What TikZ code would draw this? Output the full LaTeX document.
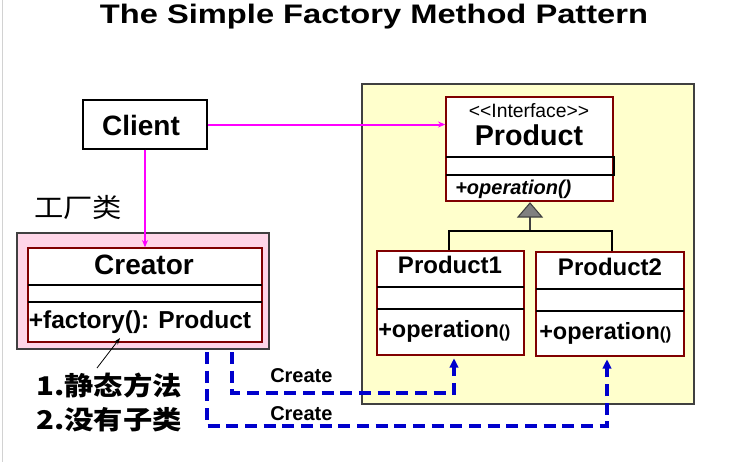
\documentclass[tikz,border=0pt]{standalone}
\usepackage{fontspec}
\setmainfont{Liberation Sans}
\newfontfamily\nolig{Liberation Sans}[Ligatures=TeXOff]
\newfontfamily\cjk{Noto Sans CJK SC}
\usetikzlibrary{arrows.meta,fit}
\definecolor{pinkbg}{RGB}{255,214,232}
\definecolor{yellowbg}{RGB}{255,255,204}
\definecolor{darkred}{RGB}{128,0,0}
\definecolor{mag}{RGB}{255,0,255}
\definecolor{createblue}{RGB}{0,0,204}
\definecolor{frame}{RGB}{64,64,64}
\newcommand\myfs[1]{\fontsize{#1}{#1}\selectfont}
\begin{document}
\begin{tikzpicture}[x=0.75pt,y=-0.75pt,
  region/.style={draw=frame, line width=1pt, inner sep=0pt},
  classbox/.style={draw=darkred, fill=white, line width=1pt, inner sep=0pt},
  simplebox/.style={draw=black, fill=white, line width=1pt, inner sep=0pt},
  comp/.style={draw=black, line width=1pt},
  assoc/.style={draw=mag, line width=1.5pt, -{Stealth[length=5.5pt,width=4.5pt]}},
  create/.style={draw=createblue, line width=2.4pt, dash pattern=on 9pt off 5pt,
     -{Triangle[length=7pt,width=6.5pt]}, shorten >=2pt},
  lbl/.style={inner sep=0pt, anchor=base},
  lbll/.style={inner sep=0pt, anchor=base west}]
\useasboundingbox (0,0) rectangle (735,462);
\draw[gray!35, line width=0.8pt] (2.5,0) -- (2.5,462);

% title
\node[lbl, font=\myfs{24.5}\bfseries] (title) at (374,23) {\scalebox{1}[0.82]{The Simple Factory Method Pattern}};

% regions
\node[region, fill=pinkbg, fit={(17,233) (269,349)}] (pink) {};
\node[region, fill=yellowbg, fit={(362,84) (694,404)}] (yellow) {};

% client
\node[simplebox, fit={(83,100) (207,149)}] (client) {};
\node[lbl, font=\myfs{21}\bfseries] (clientt) at (141,135) {Client};

% factory label
\node[inner sep=0pt, anchor=west, font=\cjk\myfs{22}] (fac) at (34,207) {\scalebox{1}[0.9]{工厂类}};

% creator
\node[classbox, fit={(28,248) (262,342)}] (creator) {};
\draw[comp] (28,285) -- (262,285);
\draw[comp] (28,302) -- (262,302);
\node[lbl, font=\myfs{21}\bfseries] (creatort) at (144,274) {Creator};
\node[lbll, font=\myfs{18.4}\bfseries] (factoryt) at (28.5,328) {+factory(): Product};

% notes
\node[inner sep=0pt, anchor=west, font=\cjk\myfs{22}\bfseries] (note1) at (36,386) {\scalebox{1}[0.88]{1.静态方法}};
\node[inner sep=0pt, anchor=west, font=\cjk\myfs{22}\bfseries] (note2) at (36,420) {\scalebox{1}[0.88]{2.没有子类}};
\coordinate (na) at (97,368);
\coordinate (nb) at (120,338);
\draw[line width=0.6pt, -{Stealth[length=5pt,width=3.5pt]}] (na) -- (nb);

% product interface
\node[classbox, fit={(446,97) (613,201)}] (prod) {};
\draw[comp] (446,157) -- (614,157) -- (614,175) -- (446,175);
\node[lbl, font=\nolig\myfs{14.5}] (ifacet) at (529,117) {<<Interface>>};
\node[lbl, font=\myfs{21.5}\bfseries] (prodt) at (529,145) {Product};
\node[lbll, font=\myfs{15}\bfseries\itshape] (prodop) at (455,194) {+operation()};

% product1
\node[classbox, fit={(377,251) (524,355)}] (p1) {};
\draw[comp] (377,287) -- (524,287);
\draw[comp] (377,309) -- (524,309);
\node[lbl, font=\myfs{18}\bfseries] (p1t) at (450,273) {Product1};
\node[lbll, font=\myfs{17.6}\bfseries] (p1op) at (378,337) {+operation{\myfs{13}()}};

% product2
\node[classbox, fit={(536,252) (684,356)}] (p2) {};
\draw[comp] (536,289) -- (684,289);
\draw[comp] (536,311) -- (684,311);
\node[lbl, font=\myfs{18}\bfseries] (p2t) at (610,275) {Product2};
\node[lbll, font=\myfs{17.6}\bfseries] (p2op) at (539,339) {+operation{\myfs{13}()}};

% inheritance
\coordinate (apex) at (530,203);
\coordinate (tbase) at (530,217);
\coordinate (bus) at (530,231);
\coordinate (busl) at (449,231);
\coordinate (busr) at (612,231);
\draw[draw=frame, fill=gray, line width=0.8pt] (apex) -- (542,217) -- (518,217) -- cycle;
\draw[draw=frame, line width=1.8pt] (tbase) -- (bus);
\draw[line width=1pt] (busl |- p1.north) -- (busl) -- (busr) -- (busr |- p2.north);

% associations
\draw[assoc] (client.east) -- (client.east -| prod.west);
\draw[assoc] (client.south) -- (creator.north);

% create dependencies
\coordinate (s1) at (232,352);
\coordinate (c1) at (454,393);
\coordinate (s2) at (207,352);
\coordinate (c2) at (607,426);
\draw[create] (s1) |- (c1) -- (c1 |- p1.south);
\draw[create] (s2) |- (c2) -- (c2 |- p2.south);
\node[lbll, font=\myfs{15}\bfseries] (cr1) at (270,382) {Create};
\node[lbll, font=\myfs{15}\bfseries] (cr2) at (270,420) {Create};
\end{tikzpicture}
\end{document}
